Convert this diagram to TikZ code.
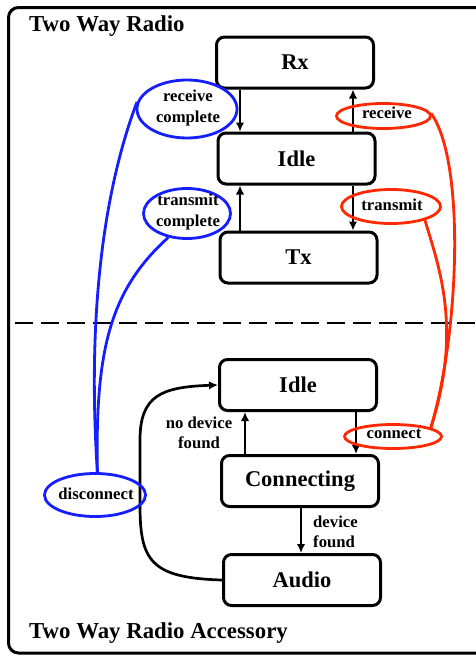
\documentclass[tikz,border=0pt]{standalone}
\usepackage{fontspec}
\setmainfont{Liberation Serif}
\usetikzlibrary{arrows.meta,shapes.geometric}
\definecolor{myblue}{RGB}{20,30,255}
\definecolor{myred}{RGB}{255,40,0}
\begin{document}
\begin{tikzpicture}[x=1pt,y=-1pt,
  state/.style={draw, line width=3pt, rounded corners=8pt, minimum width=157pt, minimum height=51pt, inner sep=0pt, font=\fontsize{22.5}{26}\selectfont\bfseries},
  oval/.style={ellipse, line width=2.8pt, inner sep=0pt},
  bl/.style={oval, draw=myblue},
  rd/.style={oval, draw=myred},
  lab/.style={font=\fontsize{16.7}{20.5}\selectfont\bfseries, align=center, inner sep=0pt},
  title/.style={font=\fontsize{22.8}{26}\selectfont\bfseries, inner sep=0pt, anchor=base west},
  arr/.style={line width=2.7pt, -{Latex[length=9pt,width=8.5pt]}},
  bwire/.style={line width=2.8pt, draw=myblue},
  rwire/.style={line width=2.8pt, draw=myred},
]
\useasboundingbox (0,0) rectangle (475,664);
\fill[white] (0,0) rectangle (475,664);
\draw[line width=3pt, rounded corners=10pt] (8.5,7.5) rectangle (490,653);

% titles
\node[title] (t1) at (29,31) {Two Way Radio};
\node[title] (t2) at (29,638) {Two Way Radio Accessory};

% separator
\draw[line width=2pt, dash pattern=on 18pt off 8pt] (15,323) -- (475,323);

% states
\node[state] (rx) at (295,62.5) {Rx};
\node[state] (idle1) at (296.5,158.5) {Idle};
\node[state] (tx) at (298.5,257.5) {Tx};
\node[state] (idle2) at (298,385) {Idle};
\node[state] (conn) at (300,481) {Connecting};
\node[state] (aud) at (302,580) {Audio};

% columns for vertical arrows
\coordinate (cl) at (240,0);
\coordinate (cr) at (353,0);
\coordinate (cl2) at (245,0);
\coordinate (cr2) at (356,0);
\coordinate (cm) at (301,0);

\draw[arr] (rx.south -| cl) -- (idle1.north -| cl);
\draw[arr] (idle1.north -| cr) -- (rx.south -| cr);
\draw[arr] (tx.north -| cl) -- (idle1.south -| cl);
\draw[arr] (idle1.south -| cr) -- (tx.north -| cr);
\draw[arr] (conn.north -| cl2) -- (idle2.south -| cl2);
\draw[arr] (idle2.south -| cr2) -- (conn.north -| cr2);
\draw[arr] (conn.south -| cm) -- (aud.north -| cm);
\draw[arr] (aud.west) .. controls (150,578) and (140,560) .. (140,505)
  -- (140,440) .. controls (140,395) and (162,387) .. (idle2.west);

% labels of black arrows
\node[lab] (ndf) at (199,433) {no device\\found};
\node[lab, align=left, anchor=west] (df) at (313,532) {device\\found};

% blue ovals
\node[bl, minimum width=100pt, minimum height=58pt] (rce) at (187,109) {};
\node[lab] (rct) at (188,108) {receive\\complete};
\node[bl, minimum width=87pt, minimum height=50pt] (tce) at (187,213.5) {};
\node[lab] (tct) at (188,212) {transmit\\complete};
\node[bl, minimum width=101pt, minimum height=43pt] (de) at (95,495) {};
\node[lab] (dt) at (96,494) {disconnect};

% red ovals
\node[rd, minimum width=94pt, minimum height=25pt] (rre) at (383.5,116) {};
\node[lab] (rrt) at (387,113) {receive};
\node[rd, minimum width=99pt, minimum height=34pt] (rte) at (391,206.5) {};
\node[lab] (rtt) at (392,205) {transmit};
\node[rd, minimum width=97pt, minimum height=24pt] (ce) at (393,436.5) {};
\node[lab] (ct) at (394,434) {connect};

% blue wires
\draw[bwire] (rce.172) .. controls (100,200) and (88,330) .. (de.84);
\draw[bwire] (tce.232) .. controls (110,290) and (95,350) .. (de.84);

% red wires
\draw[rwire] (rre.3) .. controls (465,160) and (460,330) .. (ce.13);
\draw[rwire] (rte.-22) .. controls (440,270) and (462,330) .. (ce.13);
\end{tikzpicture}
\end{document}
